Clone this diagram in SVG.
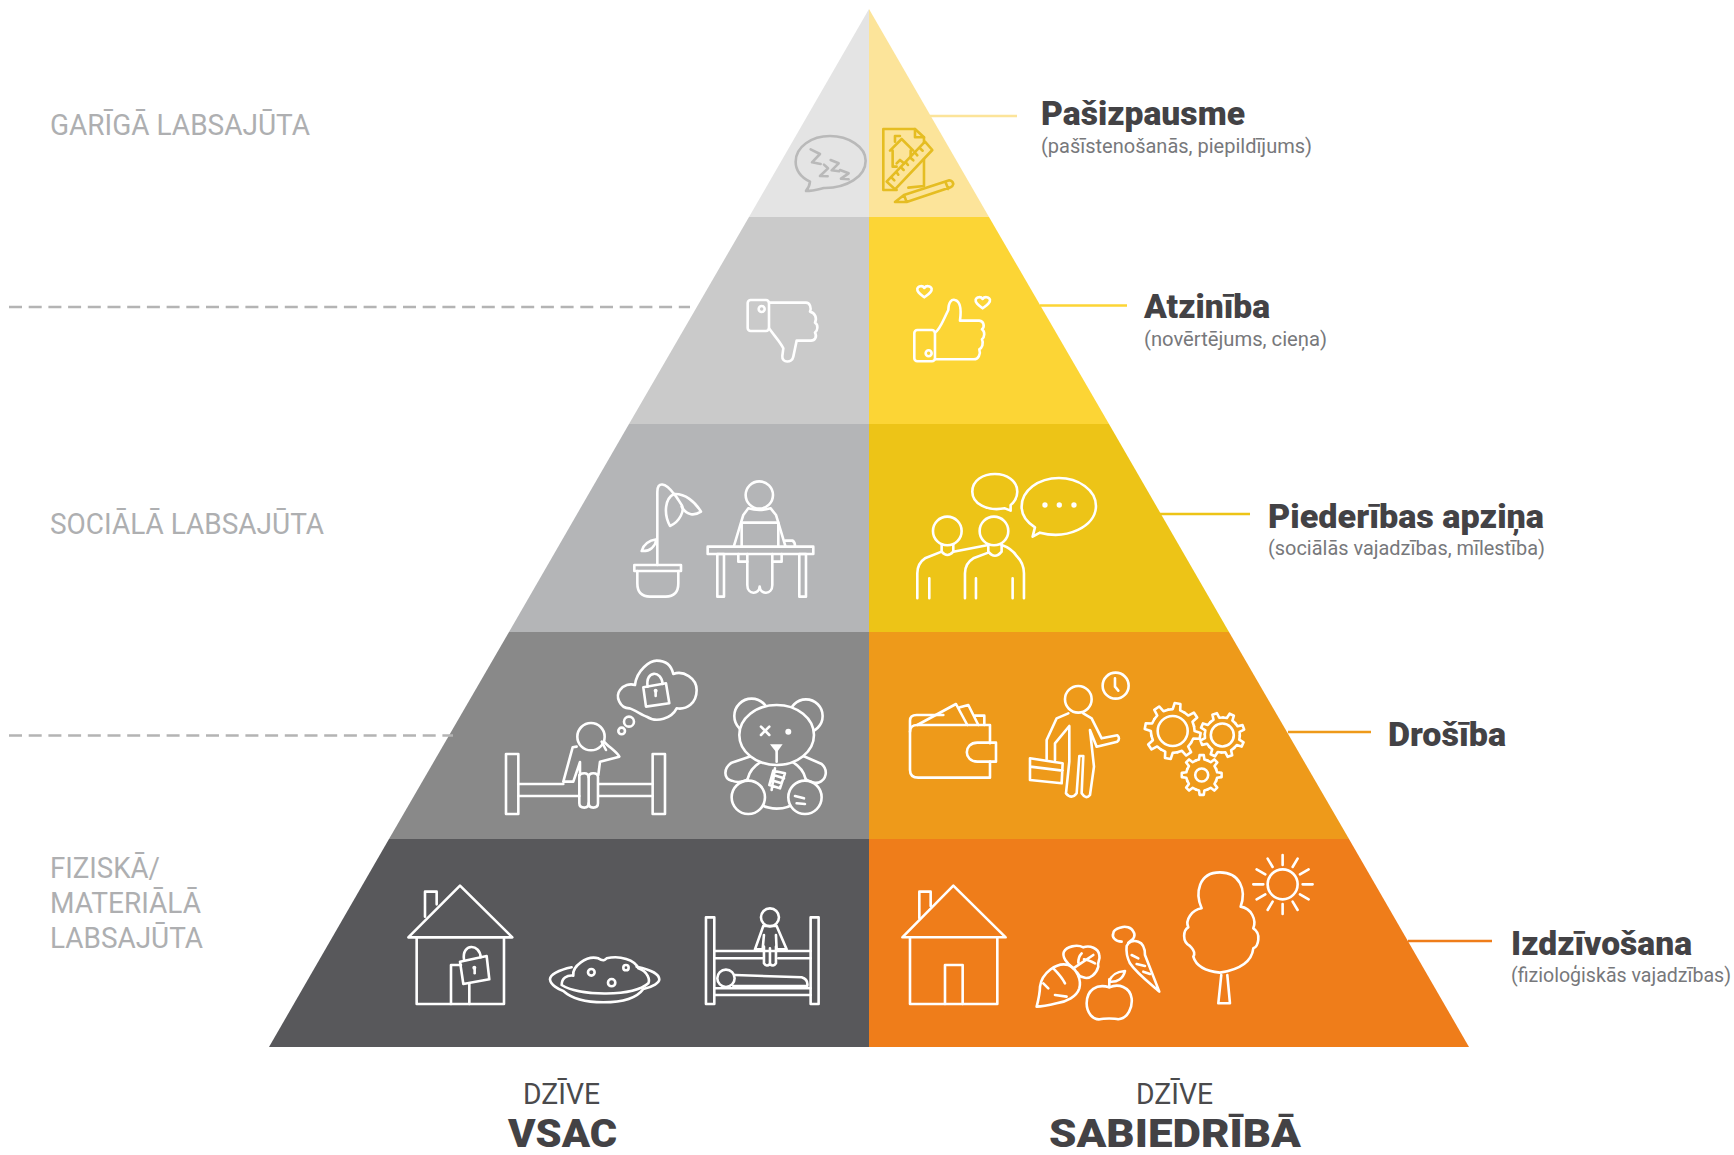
<svg xmlns="http://www.w3.org/2000/svg" xmlns:xlink="http://www.w3.org/1999/xlink" width="1734" height="1155" viewBox="0 0 1734 1155">
<style>
text{font-family:"Roboto","Liberation Sans",sans-serif}
.lvl{font-size:29px;fill:#aeafb1}
.ttl{font-size:33px;font-weight:900;fill:#434245}
.sub{font-size:20px;fill:#77787b}
.dz{font-size:29px;fill:#4a4a4c}
.big{font-size:39.5px;font-weight:900;fill:#434245}
.ic{fill:none;stroke:#fff;stroke-linejoin:round;stroke-linecap:round}
.ic *{vector-effect:non-scaling-stroke;stroke-width:2.6px}
#tooth{vector-effect:non-scaling-stroke;stroke-width:2.6px;fill:none;stroke:#fff;stroke-linejoin:round;stroke-linecap:round}
.dash{stroke:#b4b4b4;stroke-width:2.6;stroke-dasharray:13 6.7;fill:none}
.lead{stroke-width:2.6;fill:none}
.f{fill:#fff;stroke:none}
</style>
<defs>
<g id="gear">
<path id="tooth" d="M-30,-72 L-13.5,-77 L-10.5,-99.5 L10.5,-99.5 L13.5,-77 L30,-72"/>
<use xlink:href="#tooth" href="#tooth" transform="rotate(45)"/>
<use xlink:href="#tooth" href="#tooth" transform="rotate(90)"/>
<use xlink:href="#tooth" href="#tooth" transform="rotate(135)"/>
<use xlink:href="#tooth" href="#tooth" transform="rotate(180)"/>
<use xlink:href="#tooth" href="#tooth" transform="rotate(225)"/>
<use xlink:href="#tooth" href="#tooth" transform="rotate(270)"/>
<use xlink:href="#tooth" href="#tooth" transform="rotate(315)"/>
</g>
</defs>
<rect width="1734" height="1155" fill="#fff"/>

<g id="pyramid-left">
<polygon id="band-l1" points="869,9 869,217 749,217" fill="#e4e4e4"/>
<polygon id="band-l2" points="869,217 869,424 629,424 749,217" fill="#cacaca"/>
<polygon id="band-l3" points="869,424 869,632 509,632 629,424" fill="#b4b5b7"/>
<polygon id="band-l4" points="869,632 869,839 389,839 509,632" fill="#898989"/>
<polygon id="band-l5" points="869,839 869,1047 269,1047 389,839" fill="#58585b"/>
</g>
<g id="pyramid-right">
<polygon id="band-r1" points="869,9 869,217 989,217" fill="#fce49a"/>
<polygon id="band-r2" points="869,217 869,424 1109,424 989,217" fill="#fcd535"/>
<polygon id="band-r3" points="869,424 869,632 1229,632 1109,424" fill="#edc417"/>
<polygon id="band-r4" points="869,632 869,839 1349,839 1229,632" fill="#ee9a1a"/>
<polygon id="band-r5" points="869,839 869,1047 1469,1047 1349,839" fill="#ef7d1a"/>
</g>

<g id="connectors">
<path class="dash" d="M9,307H690"/>
<path class="dash" d="M9,735.5H453"/>
<path class="lead" stroke="#fce49a" d="M930,116H1017"/>
<path class="lead" stroke="#fcd535" d="M1040,305.500H1127"/>
<path class="lead" stroke="#edc417" d="M1160,514H1250"/>
<path class="lead" stroke="#ee9a1a" d="M1288,732H1371"/>
<path class="lead" stroke="#ef7d1a" d="M1408,941H1492"/>
</g>

<g id="icon-sleep" class="ic" style="stroke:#b9b9b9" transform="translate(700 0) scale(.3333)">
<path d="M372,564 C440,565 497,530 497,482 C497,440 445,408 390,408 C335,408 287,440 287,485 C287,510 300,530 330,545 C329,555 325,565 318,573 C340,573 355,568 372,564Z"/>
<path d="M332,448 L360,462 L336,487 L362,492"/>
<path d="M372,494 L384,505 L360,528 L383,529"/>
<path d="M392,480 L416,490 L395,511 L417,514"/>
<path d="M420,510 L446,520 L423,536 L446,538"/>
</g>
<g id="icon-plan" class="ic" style="stroke:#e5bd22" transform="translate(700 0) scale(.3333)">
<path d="M672,428 V412 L645,387 H550 V570 H590"/>
<path d="M645,387 V412 H672"/>
<path d="M672,478 V558 L625,563"/>
<path d="M560,545 L675,425 L697,450 L585,568Z"/>
<path d="M575,533 L583,541 M590,517 L595,524 M604,503 L611,510 M618,488 L624,495 M632,474 L640,481 M646,459 L652,466 M660,445 L668,452"/>
<path d="M570,452 L605,417 L640,452 M578,452 V500 M632,452 V470 M578,500 H590 M590,490 L600,480 L612,490"/>
<path d="M585,425 V408 H600"/>
<path d="M585,606 L612,585 L748,541 Q758,542 760,552 Q758,560 752,562 L620,606 Z M612,585 L620,606 M736,545 L745,567"/>
</g>
<g id="icon-thumb-down" class="ic" transform="translate(700 0) scale(.3333)">
<rect x="143" y="900" width="64" height="93" rx="9"/>
<circle cx="185" cy="927" r="9"/>
<path d="M207,908 H318 C330,908 335,925 330,935 C345,938 352,955 345,968 C356,975 353,992 345,998 C352,1010 345,1022 333,1022 H290 L280,1070 C276,1090 245,1090 247,1068 L250,1045 C240,1025 225,1010 207,985"/>
</g>
<g id="icon-thumb-up" class="ic" transform="translate(700 0) scale(.3333)">
<rect x="643" y="990" width="62" height="94" rx="9"/>
<circle cx="686" cy="1060" r="9"/>
<path d="M705,998 C720,990 730,960 745,930 C746,905 755,897 765,900 C785,905 783,940 780,962 H838 C852,964 855,980 846,988 C856,995 854,1012 846,1018 C852,1030 846,1045 838,1048 C843,1062 835,1078 822,1078 H705"/>
<path d="M673,892 C660,882 650,875 652,866 C655,857 668,856 673,864 C678,856 692,857 695,866 C697,875 686,882 673,892Z"/>
<path d="M848,925 C835,915 825,908 827,899 C830,890 843,889 848,897 C853,889 867,890 870,899 C872,908 861,915 848,925Z"/>
</g>

<g id="icon-plant" class="ic" transform="translate(600 450) scale(.3333)">
<rect x="103" y="345" width="140" height="18"/>
<path d="M112,363 V400 Q112,440 150,440 H197 Q235,440 235,400 V363"/>
<path d="M172,345 V125 C172,95 195,95 222,132"/>
<path d="M222,132 C195,145 190,190 210,228 C240,215 255,180 245,165 C235,150 230,140 222,132Z"/>
<path d="M222,132 C255,130 285,155 303,185 C285,197 260,198 245,170"/>
<path d="M170,268 C145,272 130,285 125,303 C150,305 165,290 170,268Z"/>
</g>
<g id="icon-desk" class="ic" transform="translate(600 450) scale(.3333)">
<circle cx="478" cy="135" r="41"/>
<path d="M445,175 L430,195 L402,288 M512,175 L528,195 L556,288 M445,175 Q478,185 512,175"/>
<path d="M425,288 V218 H535 V288"/>
<path d="M556,272 H578 Q586,278 585,290"/>
<rect x="323" y="290" width="317" height="22"/>
<rect x="352" y="312" width="20" height="128"/>
<rect x="598" y="312" width="20" height="128"/>
<path d="M415,312 V335 H442 M517,335 H545 V312"/>
<path d="M442,312 V405 C442,435 478,435 479,410 C480,435 517,435 517,405 V312"/>
</g>
<g id="icon-friends" class="ic" transform="translate(600 450) scale(.3333)">
<circle cx="1042" cy="243" r="43"/>
<circle cx="1182" cy="243" r="43"/>
<path d="M1025,283 V305 Q1042,325 1060,305 V283"/>
<path d="M1165,283 V305 Q1185,330 1205,305 V283"/>
<path d="M1025,305 L975,325 Q952,340 952,370 V445 M988,385 V445"/>
<path d="M1060,305 L1165,285"/>
<path d="M1165,308 L1120,325 Q1095,340 1095,370 V445 M1128,385 V445"/>
<path d="M1205,285 Q1235,295 1250,318 Q1272,340 1272,370 V445 M1238,385 V445"/>
<path d="M1215,175 C1160,185 1117,160 1117,125 C1117,90 1150,72 1185,72 C1220,72 1252,92 1252,125 C1252,145 1240,160 1232,165 L1232,182Z"/>
<path d="M1320,248 C1400,270 1488,230 1488,168 C1488,120 1435,84 1377,84 C1315,84 1265,122 1265,170 C1265,195 1278,215 1305,232 L1298,260Z"/>
<circle class="f" cx="1335" cy="165" r="8"/>
<circle class="f" cx="1378" cy="165" r="8"/>
<circle class="f" cx="1422" cy="165" r="8"/>
</g>

<g id="icon-bed-worry" class="ic" transform="translate(480 640) scale(.3333)">
<rect x="78" y="342" width="37" height="180"/>
<rect x="518" y="342" width="37" height="180"/>
<path d="M115,432 H250 M115,468 H298 M358,432 H518 M358,468 H518"/>
<circle cx="333" cy="290" r="41"/>
<path d="M290,320 L278,322 L250,425 H280 L300,366 V405"/>
<path d="M372,305 C385,320 410,335 418,350 L360,365 L355,405"/>
<path d="M365,305 L378,330"/>
<path d="M300,405 Q300,400 313,400 Q325,400 326,412 V490 Q326,503 313,503 Q298,503 298,490 V405Z"/>
<path d="M326,412 Q326,400 340,400 Q354,400 354,412 V490 Q354,503 340,503 Q326,503 326,490"/>
<circle cx="425" cy="273" r="10"/>
<circle cx="447" cy="245" r="15"/>
<path d="M448,205 C420,205 405,170 420,150 C430,135 450,130 465,135 C470,90 510,62 530,62 C560,62 575,80 580,102 C610,90 650,115 650,150 C650,190 620,210 590,205 C575,235 530,250 500,230 C485,225 465,210 448,205Z"/>
<path d="M490,142 L558,130 L568,190 L498,200Z"/>
<path d="M503,140 C495,90 545,90 548,132"/>
<circle class="f" cx="527" cy="152" r="6"/>
<path d="M527,155 V168"/>
</g>
<g id="icon-teddy" class="ic" transform="translate(480 640) scale(.3333)">
<g fill="#898989">
<circle cx="815" cy="228" r="52"/>
<circle cx="978" cy="228" r="50"/>
<path d="M815,348 L755,368 C730,385 730,415 755,422 C775,430 800,425 812,410"/>
<path d="M970,348 L1025,372 C1045,390 1040,420 1015,428 C1000,430 985,425 975,415"/>
<ellipse cx="890" cy="430" rx="88" ry="76"/>
<ellipse cx="890" cy="285" rx="112" ry="90"/>
<circle cx="805" cy="472" r="50"/>
<circle cx="975" cy="472" r="50"/>
</g>
<path d="M843,260 L868,285 M868,260 L843,285"/>
<circle class="f" cx="925" cy="275" r="9"/>
<path class="f" d="M870,313 H908 L890,338Z"/>
<path d="M890,335 V365"/>
<path d="M880,392 L915,400 L900,445 L868,435Z M872,420 L905,430 M880,405 L912,415 M885,385 L875,450"/>
<path d="M945,468 L972,475 M950,490 L975,492"/>
</g>

<g id="icon-wallet" class="ic" transform="translate(880 650) scale(.3333)">
<path d="M330,280 V225 H112 Q90,225 90,245 V360 Q90,383 115,383 H330 V335"/>
<path d="M90,245 V212 Q90,195 110,195 H190"/>
<path d="M348,278 H292 C250,278 250,335 292,335 H348Z"/>
<path d="M112,225 L228,162 L262,225 M240,172 L265,165 L295,225 M285,197 H313 V225"/>
</g>
<g id="icon-worker" class="ic" transform="translate(880 650) scale(.3333)">
<circle cx="595" cy="148" r="40"/>
<circle cx="707" cy="107" r="39"/>
<path d="M705,85 V110 L715,122"/>
<path d="M565,190 L530,205 L500,270 V328 M525,330 V280 L568,228 V335 L558,430 Q575,450 590,430 L598,318 H610 L605,430 Q618,450 630,435 L642,350 L630,240 L650,290 L712,275 Q722,265 712,256 L665,265 L635,205 L610,190"/>
<path d="M450,325 L548,340 L545,400 L450,390Z M450,350 L548,362"/>
</g>
<g id="icon-gears" class="ic">
<use xlink:href="#gear" href="#gear" transform="translate(1172.700 731) rotate(10) scale(.28)"/>
<circle cx="1172.700" cy="731" r="15"/>
<use xlink:href="#gear" href="#gear" transform="translate(1222.300 735) rotate(25) scale(.225)"/>
<circle cx="1222.300" cy="735" r="11.500"/>
<use xlink:href="#gear" href="#gear" transform="translate(1201.700 775) rotate(0) scale(.2)"/>
<circle cx="1201.700" cy="775" r="6.500"/>
</g>

<g id="icon-house-lock" class="ic" transform="translate(390 860) scale(.3333)">
<path d="M55,232 L210,77 L367,232Z"/>
<path d="M80,232 V432 H342 V232"/>
<path d="M105,170 V95 H140 V133"/>
<path d="M183,432 V315 H213 M238,372 V432"/>
<path d="M210,305 L290,288 L298,358 L220,372Z"/>
<path d="M222,298 C215,250 270,250 272,292"/>
<circle class="f" cx="253" cy="323" r="6"/>
<path d="M254,325 V340"/>
</g>
<g id="icon-plate" class="ic" transform="translate(390 860) scale(.3333)">
<path d="M545,322 C505,330 480,345 480,358 C482,375 505,388 520,393 C550,420 590,427 640,427 C695,427 740,415 760,387 C790,380 808,368 808,358 C808,342 780,328 740,320"/>
<path d="M515,375 C515,355 530,345 550,347 C545,320 590,285 625,295 C640,305 645,300 650,295 C690,285 735,300 745,325 C775,335 780,360 775,370 C730,410 570,410 515,375Z"/>
<circle cx="604" cy="337" r="10"/>
<circle cx="708" cy="323" r="8"/>
<circle cx="665" cy="368" r="11"/>
</g>
<g id="icon-bunk" class="ic" transform="translate(390 860) scale(.3333)">
<rect x="948" y="172" width="25" height="260"/>
<rect x="1262" y="172" width="24" height="260"/>
<path d="M973,273 H1262 M973,295 H1120 M1165,295 H1262 M973,385 H1262 M973,405 H1262"/>
<circle cx="1140" cy="172" r="27"/>
<path d="M1120,198 L1095,268 H1118 L1122,225 M1160,198 L1190,268 H1160 L1158,225 M1120,198 H1160"/>
<path d="M1122,260 V310 Q1130,322 1140,312 Q1150,322 1158,310 V260 M1140,265 V312"/>
<circle cx="1008" cy="355" r="26"/>
<path d="M1035,345 L1235,352 Q1255,358 1252,378 H1030"/>
</g>

<g id="icon-house" class="ic" transform="translate(880 840) scale(.3333)">
<path d="M67,292 L220,137 L377,292Z"/>
<path d="M90,292 V492 H352 V292"/>
<path d="M118,235 V155 H152 V198"/>
<path d="M195,492 V375 H248 V492"/>
</g>
<g id="icon-food" class="ic" transform="translate(880 840) scale(.3333)">
<path d="M470,500 C475,480 480,460 480,440 C485,400 530,365 565,375 C590,385 605,420 598,445 C590,470 560,485 530,490 C510,495 490,500 470,500Z"/>
<path d="M580,385 C560,370 545,350 552,335 C560,320 590,312 610,322 C630,315 655,325 658,345 C662,360 650,368 655,380 C650,400 630,420 610,412 C600,410 595,405 592,398"/>
<path d="M580,385 L640,345 M595,368 C595,350 600,345 605,340 M612,358 C625,360 635,365 645,370"/>
<path d="M520,385 C535,400 550,420 555,430 M490,430 L505,445 M525,465 L560,470"/>
<path d="M725,305 C705,305 695,290 700,280 C700,268 715,265 725,262 C735,258 755,262 760,275 C768,285 760,298 755,300 L745,308"/>
<path d="M740,318 C745,305 760,300 775,305 C790,310 795,325 795,345 L838,455 C810,430 770,400 750,370 C740,350 738,335 740,318Z"/>
<path d="M755,345 L775,355 M770,372 L795,378 M790,395 L810,402"/>
<path d="M688,442 C650,430 620,450 620,490 C620,520 640,540 660,538 C670,535 705,535 715,538 C745,535 758,500 755,475 C750,440 715,430 688,442Z"/>
<path d="M688,442 V418"/>
<path d="M688,425 C695,400 715,395 735,393 C730,415 712,428 688,425Z"/>
</g>
<g id="icon-tree" class="ic" transform="translate(880 840) scale(.3333)">
<path d="M1020,398 C990,395 950,385 940,350 C950,335 935,325 930,318 C905,305 910,270 925,262 C915,240 935,210 965,205 C945,160 955,97 1020,97 C1080,97 1100,150 1082,200 C1115,205 1130,240 1120,265 C1145,280 1135,320 1120,325 C1115,370 1070,390 1020,398Z"/>
<path d="M1024,405 L1015,490 H1050 L1042,405"/>
</g>
<g id="icon-sun" class="ic" transform="translate(880 840) scale(.3333)">
<circle cx="1208" cy="133" r="45"/>
<path d="M1208,45 V75 M1208,192 V222 M1120,133 H1150 M1268,133 H1298 M1238,81 L1253,56 M1178,185 L1163,210 M1178,81 L1163,56 M1238,185 L1253,210 M1260,103 L1286,88 M1156,163 L1130,178 M1156,103 L1130,88 M1260,163 L1286,178"/>
</g>

<g id="labels-left">
<text class="lvl" x="50" y="135" textLength="260" lengthAdjust="spacingAndGlyphs">GARĪGĀ LABSAJŪTA</text>
<text class="lvl" x="50" y="534" textLength="274" lengthAdjust="spacingAndGlyphs">SOCIĀLĀ LABSAJŪTA</text>
<text class="lvl" x="50" y="878" textLength="110" lengthAdjust="spacingAndGlyphs">FIZISKĀ/</text>
<text class="lvl" x="50" y="913" textLength="151" lengthAdjust="spacingAndGlyphs">MATERIĀLĀ</text>
<text class="lvl" x="50" y="948" textLength="153" lengthAdjust="spacingAndGlyphs">LABSAJŪTA</text>
</g>
<g id="node-pasizpausme">
<text class="ttl" x="1041" y="125" textLength="204" lengthAdjust="spacingAndGlyphs">Pašizpausme</text>
<text class="sub" x="1041" y="153" textLength="271" lengthAdjust="spacingAndGlyphs">(pašīstenošanās, piepildījums)</text>
</g>
<g id="node-atziniba">
<text class="ttl" x="1144" y="318" textLength="126" lengthAdjust="spacingAndGlyphs">Atzinība</text>
<text class="sub" x="1144" y="346" textLength="183" lengthAdjust="spacingAndGlyphs">(novērtējums, cieņa)</text>
</g>
<g id="node-piederibas">
<text class="ttl" x="1268" y="528" textLength="276" lengthAdjust="spacingAndGlyphs">Piederības apziņa</text>
<text class="sub" x="1268" y="555" textLength="277" lengthAdjust="spacingAndGlyphs">(sociālās vajadzības, mīlestība)</text>
</g>
<g id="node-drosiba">
<text class="ttl" x="1388" y="746" textLength="118" lengthAdjust="spacingAndGlyphs">Drošība</text>
</g>
<g id="node-izdzivosana">
<text class="ttl" x="1511" y="955" textLength="181" lengthAdjust="spacingAndGlyphs">Izdzīvošana</text>
<text class="sub" x="1511" y="982" textLength="220" lengthAdjust="spacingAndGlyphs">(fizioloģiskās vajadzības)</text>
</g>
<g id="node-vsac">
<text class="dz" x="523" y="1103.500" textLength="77" lengthAdjust="spacingAndGlyphs">DZĪVE</text>
<text class="big" x="508" y="1146.500" textLength="109" lengthAdjust="spacingAndGlyphs">VSAC</text>
</g>
<g id="node-sabiedriba">
<text class="dz" x="1136" y="1103.500" textLength="77" lengthAdjust="spacingAndGlyphs">DZĪVE</text>
<text class="big" x="1049" y="1146.500" textLength="252" lengthAdjust="spacingAndGlyphs">SABIEDRĪBĀ</text>
</g>
</svg>
